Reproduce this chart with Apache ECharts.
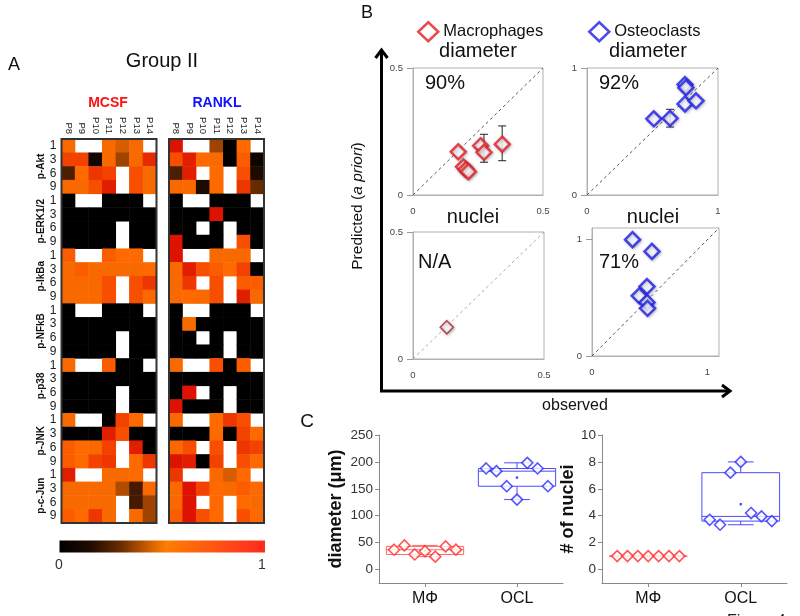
<!DOCTYPE html>
<html><head><meta charset="utf-8">
<script src="https://cdn.jsdelivr.net/npm/echarts@6/dist/echarts.min.js"></script>
<style>html,body{margin:0;padding:0;background:#fff}#c{width:800px;height:616px}</style>
</head><body><div id="c"></div>
<script>
const F = 'Arial, "Liberation Sans", sans-serif';

// ---------- Panel A data ----------
const patients = ['P8','P9','P10','P11','P12','P13','P14'];
const proteins = ['p-Akt','p-ERK1/2','p-IkBa','p-NFkB','p-p38','p-JNK','p-c-Jun'];
const timepoints = ['1','3','6','9'];
// 28 rows (protein x timepoint) x 7 patients; null = no data (white)
const mcsfValues = [
 [0.55,null,null,0.55,0.45,0.55,null],
 [0.75,0.75,0.05,0.55,0.35,0.55,0.85],
 [0.2,0.6,0.8,0.75,null,0.7,0.55],
 [0.55,0.55,0.7,0.9,null,0.7,0.55],
 [0,null,null,0,0,0,null],
 [0,0,0,0,0,0,0],
 [0,0,0,0,null,0,0],
 [0,0,0,0,null,0,0],
 [0.65,null,null,0.65,0.6,0.6,null],
 [0.55,0.65,0.55,0.55,0.55,0.55,0.6],
 [0.55,0.55,0.55,0.7,null,0.7,0.8],
 [0.55,0.55,0.55,0.7,null,0.7,0.55],
 [0,null,null,0,0,0,null],
 [0,0,0,0,0,0,0],
 [0,0,0,0,null,0,0],
 [0,0,0,0,null,0,0],
 [0.55,null,null,0.65,0,0,null],
 [0,0,0,0,0,0,0],
 [0,0,0,0,null,0,0],
 [0,0,0,0,null,0,0],
 [0.55,null,null,0,0.75,0.6,null],
 [0,0,0,0.9,0.7,0,0],
 [0.65,0.6,0.55,0.75,null,0.9,0],
 [0.65,0.6,0.75,0.8,null,0.6,0.8],
 [0.9,null,null,0.55,0.55,0.6,null],
 [0.55,0.55,0.55,0.55,0.38,0.18,0.55],
 [0.55,0.55,0.55,0.55,null,0.18,0.35],
 [0.65,0.6,0.8,0.55,null,0.55,0.35]
];
const ranklValues = [
 [0.95,null,null,0.35,0,0.6,null],
 [0.7,0.9,0.6,0.55,0,0.65,0.04],
 [0.2,0.9,null,0.6,null,0.7,0.08],
 [0.55,0.55,0.08,0.6,null,0.8,0.25],
 [0,null,null,0,0,0,null],
 [0,0,0,0.95,0,0,0],
 [0,0,null,0,null,0,0],
 [0.95,0,0,0,null,0.7,0],
 [0.95,null,null,0.55,0.55,0.55,null],
 [0.55,0.9,0.7,0.65,0.6,0.75,0],
 [0.55,0.8,null,0.7,null,0.65,0.65],
 [0.55,0.6,0.55,0.7,null,0.9,0.55],
 [0,null,null,0,0,0,null],
 [0,0.55,0,0,0,0,0],
 [0,0,null,0,null,0,0],
 [0,0,0,0,null,0,0],
 [0.55,null,null,0.7,0,0.65,null],
 [0,0,0,0,0,0,0],
 [0,0.95,null,0,null,0,0],
 [0.95,0,0,0,null,0,0],
 [0.55,null,null,0.6,0.8,0.7,null],
 [0,0,0,0.6,0,0.75,0.6],
 [0.55,0.7,null,0.7,null,0.8,0.75],
 [0.95,0.9,0,0.75,null,0.7,0.6],
 [0.8,null,null,0.55,0.45,0.6,null],
 [0.55,0.95,0.75,0.6,0.55,0.65,0.6],
 [0.55,0.95,null,0.6,null,0.6,0.55],
 [0.65,0.95,0.7,0.6,null,0.7,0.6]
];

// ---------- Panel B data ----------
const macDiamObserved  = [0.174,0.194,0.204,0.213,0.26,0.273,0.343];
const macDiamPredicted = [0.17,0.111,0.10,0.092,0.194,0.168,0.20];
const macDiamErrX  = [0.273,0.343];
const macDiamErrLo = [0.129,0.135];
const macDiamErrHi = [0.239,0.272];
const oclDiamObserved  = [0.51,0.634,0.748,0.755,0.748,0.832];
const oclDiamPredicted = [0.60,0.604,0.87,0.845,0.717,0.742];
const oclDiamErrX  = [0.634];
const oclDiamErrLo = [0.535];
const oclDiamErrHi = [0.675];
const macNucObserved  = [0.129];
const macNucPredicted = [0.125];
const oclNucObserved  = [0.351,0.519,0.476,0.409,0.476,0.481];
const oclNucPredicted = [1.0,0.899,0.597,0.517,0.46,0.41];

// ---------- Panel C data ----------
const cellTypes = ['MΦ','OCL'];
const macDiameter = [36.8,44.8,28,34,24,43,37];
const oclDiameter = [187.8,182.8,154.8,130,198.3,187.8,154.8];
const macNuclei = [1,1,1,1,1,1,1];
const oclNuclei = [3.7,3.33,7.2,8.0,4.2,3.95,3.6];

// ---------- helpers ----------
const RED = '#e41e1e', BLUE = '#1e1ee6';
function heatData(m){ const d=[]; m.forEach((row,r)=>row.forEach((v,c)=>d.push([c,r,v===null?'-':v]))); return d; }
const rowLabels = []; proteins.forEach(()=>timepoints.forEach(t=>rowLabels.push(t)));
function zip(a,b){ return a.map((v,i)=>[v,b[i]]); }
function errData(x,lo,hi){ return x.map((v,i)=>[v,lo[i],hi[i]]); }
function quant(s,p){ const n=s.length; const pos=(n+1)*p; if(pos<=1) return s[0]; if(pos>=n) return s[n-1]; const lo=Math.floor(pos), f=pos-lo; return s[lo-1]+f*(s[lo]-s[lo-1]); }
function stats(v){ const s=v.slice().sort((a,b)=>a-b); return {min:s[0], q1:quant(s,0.25), med:quant(s,0.5), q3:quant(s,0.75), max:s[s.length-1], mean:v.reduce((a,b)=>a+b,0)/v.length}; }
function jitter(cat, vals){ const n=vals.length, step=0.112; return vals.map((v,i)=>[cat+(i-(n-1)/2)*step, v]); }

const G = { // grids
 mcsf:{left:61.5, top:139, width:95, height:384},
 rankl:{left:169, top:139, width:95, height:384},
 tl:{left:413, top:68, width:130, height:127},
 tr:{left:587, top:68, width:131, height:127},
 bl:{left:413, top:232, width:131, height:127},
 br:{left:592, top:228, width:127, height:128},
 cl:{left:379, top:435, width:184, height:148},
 cr:{left:602, top:435, width:185, height:148}
};
const grids = Object.keys(G).map(k=>Object.assign({containLabel:false}, G[k]));
['tl','tr','bl','br'].forEach(k=>{ const g=grids[Object.keys(G).indexOf(k)]; g.show=true; g.borderColor='#b0b0b0'; g.borderWidth=1; });

function heatX(gi){ return {type:'category', gridIndex:gi, data:patients, position:'top', axisLine:{show:false}, axisTick:{show:false}, splitLine:{show:false},
  axisLabel:{interval:0, rotate:90, fontSize:9.5, color:'#222', margin:5, fontFamily:F}}; }
function bX(gi,max,vals){ return {type:'value', gridIndex:gi, min:0, max:max, axisLine:{show:true, onZero:false, lineStyle:{color:'#b0b0b0'}}, axisTick:{show:false}, splitLine:{show:false},
  axisLabel:{customValues:vals, fontSize:9.5, color:'#444', margin:11, fontFamily:F, formatter:v=>String(v)}}; }
function bY(gi,max,vals){ return {type:'value', gridIndex:gi, min:0, max:max, axisLine:{show:true, onZero:false, lineStyle:{color:'#b0b0b0'}}, axisTick:{show:true, customValues:vals, length:6, lineStyle:{color:'#999'}}, splitLine:{show:false},
  axisLabel:{customValues:vals, fontSize:9.5, color:'#444', margin:10, fontFamily:F, formatter:v=>String(v)}}; }
function cX(gi){ return {type:'value', gridIndex:gi, min:-0.5, max:1.5, axisLine:{show:true, onZero:false, lineStyle:{color:'#888'}}, axisTick:{show:true, customValues:[0,1], length:4, lineStyle:{color:'#888'}}, splitLine:{show:false},
  axisLabel:{customValues:[0,1], formatter:v=>cellTypes[Math.round(v)], fontSize:16, color:'#111', margin:8, fontFamily:F}}; }
function cY(gi,min,max,vals,name,gap){ return {type:'value', gridIndex:gi, min:min, max:max, axisLine:{show:true, onZero:false, lineStyle:{color:'#888'}}, axisTick:{show:true, customValues:vals, length:4, lineStyle:{color:'#888'}}, splitLine:{show:false},
  axisLabel:{customValues:vals, fontSize:13.5, color:'#333', margin:6, fontFamily:F},
  name:name, nameLocation:'middle', nameGap:gap, nameTextStyle:{fontSize:18, fontWeight:'bold', color:'#111', fontFamily:F}}; }

const xAxes = [heatX(0), heatX(1), bX(2,0.5,[0,0.5]), bX(3,1,[0,1]), bX(4,0.5,[0,0.5]), bX(5,1.1,[0,1]), cX(6), cX(7)];
const yAxes = [
 {type:'category', gridIndex:0, position:'left', data:rowLabels, inverse:true, axisLine:{show:false}, axisTick:{show:false}, splitLine:{show:false}, axisLabel:{interval:0, fontSize:12, color:'#222', margin:5, fontFamily:F}},
 {type:'category', gridIndex:0, position:'left', data:proteins, inverse:true, offset:13, axisLine:{show:false}, axisTick:{show:false}, splitLine:{show:false}, axisLabel:{interval:0, rotate:90, fontSize:10, fontWeight:'bold', color:'#111', margin:2, fontFamily:F}},
 {type:'category', gridIndex:1, position:'left', data:rowLabels, inverse:true, axisLine:{show:false}, axisTick:{show:false}, splitLine:{show:false}, axisLabel:{show:false}},
 bY(2,0.5,[0,0.5]), bY(3,1,[0,1]), bY(4,0.5,[0,0.5]), bY(5,1.1,[0,1]),
 cY(6,-25,250,[0,50,100,150,200,250],'diameter (μm)',34), cY(7,-1,10,[0,2,4,6,8,10],'# of nuclei',18)
];

function diag(xi,yi,max,color){ return {type:'line', xAxisIndex:xi, yAxisIndex:yi, data:[[0,0],[max,max]], symbol:'none', silent:true, z:2, lineStyle:{type:[3,3], width:1, color:color}}; }
function pts(name,xi,yi,data,color,size,bw){ return {name:name, type:'scatter', xAxisIndex:xi, yAxisIndex:yi, data:data, symbol:'diamond', symbolSize:size, z:6, silent:true,
  itemStyle:{color:'#fff', borderColor:color, borderWidth:bw, shadowBlur:3, shadowColor:'rgba(40,40,90,0.35)', shadowOffsetX:1, shadowOffsetY:1}}; }
function errBars(xi,yi,data){ return {type:'custom', xAxisIndex:xi, yAxisIndex:yi, data:data, z:4, silent:true,
  renderItem(p,api){ const a=api.coord([api.value(0),api.value(1)]), b=api.coord([api.value(0),api.value(2)]), w=4, st={stroke:'#222', lineWidth:1};
   return {type:'group', children:[
    {type:'line', shape:{x1:a[0],y1:a[1],x2:b[0],y2:b[1]}, style:st},
    {type:'line', shape:{x1:a[0]-w,y1:a[1],x2:a[0]+w,y2:a[1]}, style:st},
    {type:'line', shape:{x1:b[0]-w,y1:b[1],x2:b[0]+w,y2:b[1]}, style:st}]}; }}; }
function boxSeries(xi,yi,cat,vals,color){ const s=stats(vals);
 return {type:'custom', xAxisIndex:xi, yAxisIndex:yi, z:3, silent:true, data:[[cat,s.min,s.q1,s.med,s.q3,s.max,s.mean]],
  renderItem(p,api){ const c=api.value(0); const band=api.size([1,0])[0]; const hw=band*0.42, cw=band*0.14;
   const Y=i=>api.coord([c,api.value(i)])[1]; const x=api.coord([c,0])[0];
   const yMin=Y(1), yQ1=Y(2), yMed=Y(3), yQ3=Y(4), yMax=Y(5), yMean=Y(6);
   const st={stroke:color, lineWidth:1, fill:null};
   return {type:'group', children:[
    {type:'rect', shape:{x:x-hw,y:yQ3,width:2*hw,height:Math.max(yQ1-yQ3,0.5)}, style:st},
    {type:'line', shape:{x1:x-hw,y1:yMed,x2:x+hw,y2:yMed}, style:st},
    {type:'line', shape:{x1:x,y1:yQ3,x2:x,y2:yMax}, style:st},
    {type:'line', shape:{x1:x,y1:yQ1,x2:x,y2:yMin}, style:st},
    {type:'line', shape:{x1:x-cw,y1:yMax,x2:x+cw,y2:yMax}, style:st},
    {type:'line', shape:{x1:x-cw,y1:yMin,x2:x+cw,y2:yMin}, style:st},
    {type:'rect', shape:{x:x-1.2,y:yMean-1.2,width:2.4,height:2.4}, style:{fill:color}}]}; }}; }
function cPts(xi,yi,cat,vals,color){ return {type:'scatter', xAxisIndex:xi, yAxisIndex:yi, data:jitter(cat,vals), symbol:'diamond', symbolSize:11, z:5, silent:true,
  itemStyle:{color:'#fff', borderColor:color, borderWidth:1.6}}; }

const series = [
 {type:'heatmap', xAxisIndex:0, yAxisIndex:0, data:heatData(mcsfValues), silent:true},
 {type:'heatmap', xAxisIndex:1, yAxisIndex:2, data:heatData(ranklValues), silent:true},
 diag(2,3,0.5,'#555'), errBars(2,3,errData(macDiamErrX,macDiamErrLo,macDiamErrHi)), pts('Macrophages',2,3,zip(macDiamObserved,macDiamPredicted),RED,15,2.5),
 diag(3,4,1,'#555'), errBars(3,4,errData(oclDiamErrX,oclDiamErrLo,oclDiamErrHi)), pts('Osteoclasts',3,4,zip(oclDiamObserved,oclDiamPredicted),BLUE,15,2.5),
 diag(4,5,0.5,'#aaa'), pts('Macrophages ',4,5,zip(macNucObserved,macNucPredicted),'#b22222',13,1.6),
 diag(5,6,1.1,'#555'), pts('Osteoclasts ',5,6,zip(oclNucObserved,oclNucPredicted),BLUE,15,2.5),
 boxSeries(6,7,0,macDiameter,'#ff6a6a'), boxSeries(6,7,1,oclDiameter,'#4a4aff'),
 cPts(6,7,0,macDiameter,'#ff2a2a'), cPts(6,7,1,oclDiameter,'#2a2aff'),
 boxSeries(7,8,0,macNuclei,'#ff6a6a'), boxSeries(7,8,1,oclNuclei,'#4a4aff'),
 cPts(7,8,0,macNuclei,'#ff2a2a'), cPts(7,8,1,oclNuclei,'#2a2aff')
];

const heatColors = ['#000000','#240c00','#4e1e00','#843600','#bc5000','#f06a00','#ff6a00','#f84e00','#ee3600','#e21e00','#d80600'];

function txt(t,x,y,size,extra){ return Object.assign({type:'text', x:x, y:y, z:50, style:Object.assign({text:t, fontSize:size, fontFamily:F, fill:'#111', align:'center', verticalAlign:'middle'}, extra||{})}); }
const graphic = [
 txt('A',14,65,18), txt('Group II',162,61,20),
 txt('MCSF',108,103,14,{fontWeight:'bold', fill:'#ff1010'}), txt('RANKL',217,103,14,{fontWeight:'bold', fill:'#1010ff'}),
 {type:'rect', z:60, shape:{x:G.mcsf.left, y:G.mcsf.top, width:G.mcsf.width, height:G.mcsf.height}, style:{fill:null, stroke:'#333', lineWidth:2}},
 {type:'rect', z:60, shape:{x:G.rankl.left, y:G.rankl.top, width:G.rankl.width, height:G.rankl.height}, style:{fill:null, stroke:'#333', lineWidth:2}},
 {type:'rect', z:50, shape:{x:59.5, y:540.5, width:205.5, height:12}, style:{fill:new echarts.graphic.LinearGradient(0,0,1,0,[
   {offset:0,color:'#000'},{offset:0.15,color:'#200a00'},{offset:0.3,color:'#6a2c00'},{offset:0.45,color:'#d86400'},{offset:0.52,color:'#ff7e00'},{offset:0.75,color:'#ff5512'},{offset:1,color:'#ff2a1e'}])}},
 txt('0',59,565,14,{fill:'#333'}), txt('1',262,565,14,{fill:'#333'}),
 txt('B',367,13,18),
 txt('diameter',478,51,20), txt('diameter',648,51,20),
 txt('nuclei',473,217,20), txt('nuclei',653,217,20),
 txt('90%',425,83,20,{align:'left'}), txt('92%',599,83,20,{align:'left'}),
 txt('N/A',418,262,20,{align:'left'}), txt('71%',599,262,20,{align:'left'}),
 {type:'text', x:358, y:206, rotation:Math.PI/2, z:50, style:{text:'{n|Predicted (}{i|a priori}{n|)}', rich:{n:{fontSize:15.5, fontFamily:F, fill:'#111'}, i:{fontSize:15.5, fontStyle:'italic', fontFamily:F, fill:'#111'}}, align:'center', verticalAlign:'middle'}},
 {type:'polyline', z:50, shape:{points:[[381.5,391],[381.5,51]]}, style:{stroke:'#000', lineWidth:3, fill:null}},
 {type:'polyline', z:50, shape:{points:[[375.5,58],[381.5,50],[387.5,58]]}, style:{stroke:'#000', lineWidth:3, fill:null, lineJoin:'miter'}},
 {type:'polyline', z:50, shape:{points:[[380,391],[729,391]]}, style:{stroke:'#000', lineWidth:3, fill:null}},
 {type:'polyline', z:50, shape:{points:[[722,385],[730,391],[722,397]]}, style:{stroke:'#000', lineWidth:3, fill:null, lineJoin:'miter'}},
 txt('observed',575,406,16),
 txt('C',307,422,19),
 txt('Figure 4',727,622,16,{align:'left', fill:'#222'})
];

const option = {
 backgroundColor:'#fff', animation:false,
 textStyle:{fontFamily:F},
 grid:grids, xAxis:xAxes, yAxis:yAxes,
 visualMap:{show:false, type:'continuous', min:0, max:1, seriesIndex:[0,1], inRange:{color:heatColors}},
 legend:[
  {data:['Macrophages'], left:412, top:16, icon:'diamond', itemWidth:20, itemHeight:19, selectedMode:false, textStyle:{fontSize:16.5, color:'#111', fontFamily:F}, itemStyle:{color:'#fff', borderColor:RED, borderWidth:2.5}},
  {data:['Osteoclasts'], left:583, top:16, icon:'diamond', itemWidth:20, itemHeight:19, selectedMode:false, textStyle:{fontSize:16.5, color:'#111', fontFamily:F}, itemStyle:{color:'#fff', borderColor:BLUE, borderWidth:2.5}}
 ],
 series:series,
 graphic:graphic
};
const chart = echarts.init(document.getElementById('c'), null, {renderer:'canvas'});
chart.setOption(option);
</script></body></html>
